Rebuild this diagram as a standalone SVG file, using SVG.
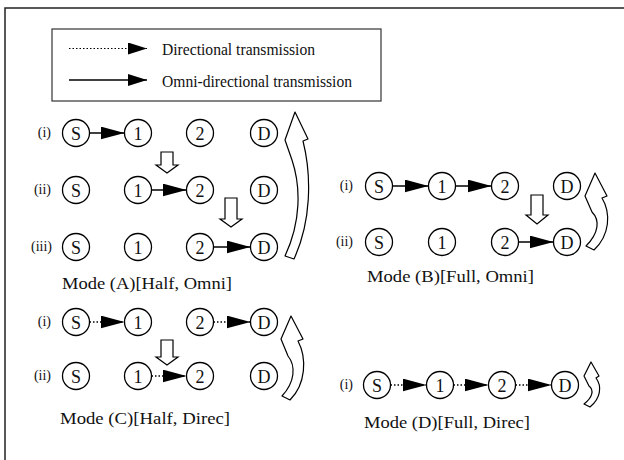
<svg xmlns="http://www.w3.org/2000/svg" width="624" height="460" viewBox="0 0 624 460">
<style>
.t{font-family:"Liberation Serif","Times New Roman",serif;fill:#111}
.n{font-size:18px;text-anchor:middle}
.lb{font-size:14px;text-anchor:end}
.cap{font-size:17px}
.c{fill:#fff;stroke:#000;stroke-width:1.3}
.s{stroke:#000;stroke-width:1.3;fill:none;marker-end:url(#ah)}
.d{stroke:#000;stroke-width:1.3;fill:none;stroke-dasharray:1.5 2;marker-end:url(#ah)}
.h{fill:#fff;stroke:#000;stroke-width:1.2}
.cv{fill:#fff;stroke:#000;stroke-width:1.2;stroke-linejoin:round}
</style>
<defs>
<marker id="ah" markerUnits="userSpaceOnUse" markerWidth="24" markerHeight="13" refX="24" refY="6.5" orient="auto"><path d="M0,0 L24,6.5 L0,13 Z" fill="#000"/></marker>
<marker id="ahl" markerUnits="userSpaceOnUse" markerWidth="19" markerHeight="12" refX="19" refY="6" orient="auto"><path d="M0,0 L19,6 L0,12 Z" fill="#000"/></marker>
</defs>
<rect width="624" height="460" fill="#fff"/>
<path d="M5,460 V8 H624" fill="none" stroke="#222" stroke-width="1.5"/>

<g id="legend">
<rect x="52" y="29" width="329" height="72" fill="#fff" stroke="#333" stroke-width="1.2"/>
<line x1="69" y1="48.5" x2="147" y2="48.5" stroke="#000" stroke-width="1.2" stroke-dasharray="1.5 2" marker-end="url(#ahl)"/>
<line x1="69" y1="80" x2="147" y2="80" stroke="#000" stroke-width="1.3" marker-end="url(#ahl)"/>
<text class="t" x="162" y="55" font-size="16" textLength="153" lengthAdjust="spacingAndGlyphs">Directional transmission</text>
<text class="t" x="162" y="87" font-size="16" textLength="190" lengthAdjust="spacingAndGlyphs">Omni-directional transmission</text>
</g>

<g id="modeA">
<text class="t lb" x="51" y="137">(i)</text>
<text class="t lb" x="51" y="194">(ii)</text>
<text class="t lb" x="52" y="251">(iii)</text>
<g id="A-i"><circle class="c" cx="76" cy="133" r="13.5"/><text class="t n" x="76" y="139.5">S</text><circle class="c" cx="138" cy="133" r="13.5"/><text class="t n" x="138" y="139.5">1</text><circle class="c" cx="200" cy="133" r="13.5"/><text class="t n" x="200" y="139.5">2</text><circle class="c" cx="264" cy="133" r="13.5"/><text class="t n" x="264" y="139.5">D</text></g>
<g id="A-ii"><circle class="c" cx="76" cy="190" r="13.5"/><text class="t n" x="76" y="196.5">S</text><circle class="c" cx="138" cy="190" r="13.5"/><text class="t n" x="138" y="196.5">1</text><circle class="c" cx="200" cy="190" r="13.5"/><text class="t n" x="200" y="196.5">2</text><circle class="c" cx="264" cy="190" r="13.5"/><text class="t n" x="264" y="196.5">D</text></g>
<g id="A-iii"><circle class="c" cx="76" cy="247" r="13.5"/><text class="t n" x="76" y="253.5">S</text><circle class="c" cx="138" cy="247" r="13.5"/><text class="t n" x="138" y="253.5">1</text><circle class="c" cx="200" cy="247" r="13.5"/><text class="t n" x="200" y="253.5">2</text><circle class="c" cx="264" cy="247" r="13.5"/><text class="t n" x="264" y="253.5">D</text></g>
<path class="h" d="M161,152 H173 V165 H178 L167,173 L156,165 H161 Z"/>
<path class="h" d="M225,198 H237 V219 H242 L231,227 L220,219 H225 Z"/>
<path class="cv" transform="translate(295,112)" d="M0,0 L13,27 L8,29 C17,65 16,110 -1,147 L-10,144 C6,110 6,75 -3,48 L-10,28 Z"/>
<text class="t cap" x="62" y="289" textLength="170" lengthAdjust="spacingAndGlyphs">Mode (A)[Half, Omni]</text>
</g>

<g id="modeB">
<text class="t lb" x="353" y="190">(i)</text>
<text class="t lb" x="353" y="246">(ii)</text>
<g id="B-i"><circle class="c" cx="379" cy="186" r="13.5"/><text class="t n" x="379" y="192.5">S</text><circle class="c" cx="442" cy="186" r="13.5"/><text class="t n" x="442" y="192.5">1</text><circle class="c" cx="505" cy="186" r="13.5"/><text class="t n" x="505" y="192.5">2</text><circle class="c" cx="567" cy="186" r="13.5"/><text class="t n" x="567" y="192.5">D</text></g>
<g id="B-ii"><circle class="c" cx="379" cy="242" r="13.5"/><text class="t n" x="379" y="248.5">S</text><circle class="c" cx="442" cy="242" r="13.5"/><text class="t n" x="442" y="248.5">1</text><circle class="c" cx="505" cy="242" r="13.5"/><text class="t n" x="505" y="248.5">2</text><circle class="c" cx="567" cy="242" r="13.5"/><text class="t n" x="567" y="248.5">D</text></g>
<path class="h" d="M531,195 H543 V215 H548 L537,224 L526,215 H531 Z"/>
<path class="cv" transform="translate(595,173)" d="M0,0 L12,23 L7,25 C16,40 15,62 -1,77 L-9,73 C4,60 5,47 -3,39 L-10,23 Z"/>
<text class="t cap" x="367" y="282" textLength="167" lengthAdjust="spacingAndGlyphs">Mode (B)[Full, Omni]</text>
</g>

<g id="modeC">
<text class="t lb" x="51" y="326">(i)</text>
<text class="t lb" x="51" y="380">(ii)</text>
<g id="C-i"><circle class="c" cx="76" cy="322" r="13.5"/><text class="t n" x="76" y="328.5">S</text><circle class="c" cx="138" cy="322" r="13.5"/><text class="t n" x="138" y="328.5">1</text><circle class="c" cx="200" cy="322" r="13.5"/><text class="t n" x="200" y="328.5">2</text><circle class="c" cx="264" cy="322" r="13.5"/><text class="t n" x="264" y="328.5">D</text></g>
<g id="C-ii"><circle class="c" cx="76" cy="376" r="13.5"/><text class="t n" x="76" y="382.5">S</text><circle class="c" cx="138" cy="376" r="13.5"/><text class="t n" x="138" y="382.5">1</text><circle class="c" cx="200" cy="376" r="13.5"/><text class="t n" x="200" y="382.5">2</text><circle class="c" cx="264" cy="376" r="13.5"/><text class="t n" x="264" y="382.5">D</text></g>
<path class="h" d="M161,340 H173 V357 H178 L167,365 L156,357 H161 Z"/>
<path class="cv" transform="translate(291,316)" d="M0,0 L12,23 L7,25 C16,42 15,68 -1,84 L-9,80 C4,66 5,50 -3,40 L-10,23 Z"/>
<text class="t cap" x="60" y="424" textLength="170" lengthAdjust="spacingAndGlyphs">Mode (C)[Half, Direc]</text>
</g>

<g id="modeD">
<text class="t lb" x="353" y="389">(i)</text>
<g id="D-i"><circle class="c" cx="377" cy="385" r="13.5"/><text class="t n" x="377" y="391.5">S</text><circle class="c" cx="440" cy="385" r="13.5"/><text class="t n" x="440" y="391.5">1</text><circle class="c" cx="502" cy="385" r="13.5"/><text class="t n" x="502" y="391.5">2</text><circle class="c" cx="565" cy="385" r="13.5"/><text class="t n" x="565" y="391.5">D</text></g>
<path class="cv" transform="translate(591,362)" d="M0,0 L8,14 L5,16 C11,24 10,36 -1,45 L-7,42 C2,35 3,28 -2,24 L-7,14 Z"/>
<text class="t cap" x="364" y="428" textLength="166" lengthAdjust="spacingAndGlyphs">Mode (D)[Full, Direc]</text>
</g>

<g id="connectors">
<line class="s" x1="89.5" y1="133" x2="124.5" y2="133"/>
<line class="s" x1="151.5" y1="190" x2="186.5" y2="190"/>
<line class="s" x1="213.5" y1="247" x2="250.5" y2="247"/>
<line class="s" x1="392.5" y1="186" x2="428.5" y2="186"/>
<line class="s" x1="455.5" y1="186" x2="491.5" y2="186"/>
<line class="s" x1="518.5" y1="242" x2="553.5" y2="242"/>
<line class="d" x1="89.5" y1="322" x2="124.5" y2="322"/>
<line class="d" x1="213.5" y1="322" x2="250.5" y2="322"/>
<line class="d" x1="151.5" y1="376" x2="186.5" y2="376"/>
<line class="d" x1="390.5" y1="385" x2="426.5" y2="385"/>
<line class="d" x1="453.5" y1="385" x2="488.5" y2="385"/>
<line class="d" x1="515.5" y1="385" x2="551.5" y2="385"/>
</g>
</svg>
